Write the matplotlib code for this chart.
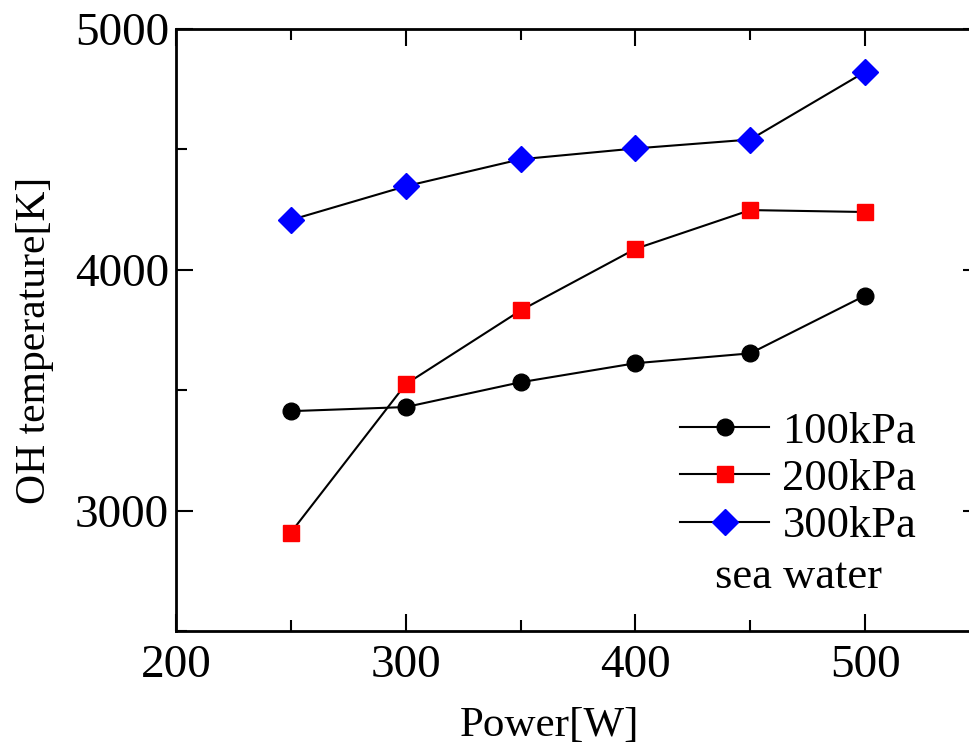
import matplotlib
matplotlib.use("Agg")
import matplotlib.pyplot as plt
from matplotlib.ticker import MultipleLocator

plt.rcParams['font.family'] = ['Liberation Serif', 'DejaVu Serif']
plt.rcParams['mathtext.fontset'] = 'stix'

power = [250, 300, 350, 400, 450, 500]
t_100kpa = [3413, 3430, 3533, 3612, 3653, 3893]
t_200kpa = [2909, 3525, 3831, 4087, 4248, 4240]
t_300kpa = [4207, 4347, 4459, 4504, 4541, 4822]

fig = plt.figure(figsize=(9.69, 7.47), dpi=100)
ax = fig.add_axes([176 / 969, 1 - 631 / 747, 804 / 969, 602 / 747])

ax.plot(power, t_100kpa, '-', color='black', lw=1.5, marker='o',
        ms=12, mfc='black', mec='black', label='100kPa')
ax.plot(power, t_200kpa, '-', color='black', lw=1.5, marker='s',
        ms=12, mfc='red', mec='red', label='200kPa')
ax.plot(power, t_300kpa, '-', color='black', lw=1.5, marker='D',
        ms=13.5, mfc='blue', mec='blue', label='300kPa')

ax.set_xlim(200, 550)
ax.set_ylim(2500, 5000)
ax.xaxis.set_major_locator(MultipleLocator(100))
ax.xaxis.set_minor_locator(MultipleLocator(50))
ax.yaxis.set_major_locator(MultipleLocator(1000))
ax.yaxis.set_minor_locator(MultipleLocator(500))
ax.tick_params(which='both', direction='in', top=True, right=True,
               width=1.5, labelsize=34)
ax.tick_params(which='major', length=12)
ax.tick_params(which='minor', length=8)
ax.tick_params(axis='x', which='major', pad=10)
ax.tick_params(axis='y', which='major', pad=5)
for s in ax.spines.values():
    s.set_linewidth(2)

ax.set_xlabel('Power[W]', fontsize=31)
ax.xaxis.set_label_coords((550 - 176) / 804, -0.125)
ax.set_ylabel('OH temperature[K]', fontsize=30)
ax.yaxis.set_label_coords(-0.152, (631 - 340) / 602)

leg = ax.legend(loc='center left', bbox_to_anchor=(0.627, 0.2525),
                frameon=False, fontsize=32, handlelength=2.0,
                handletextpad=0.3, labelspacing=0.16, borderaxespad=0,
                borderpad=0)
ax.text(0.670, 0.09, 'sea water', transform=ax.transAxes, fontsize=32,
        va='center', ha='left')

fig.savefig('out.png', dpi=100)
